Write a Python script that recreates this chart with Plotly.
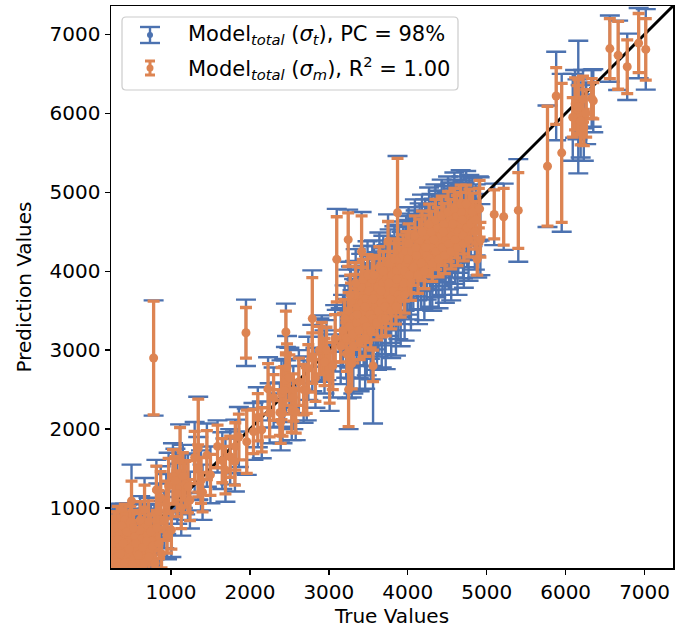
import plotly.graph_objects as go

# ---------------- data ----------------
true_values = [
    # low blob
    250, 265, 280, 295, 310, 325, 340, 355, 370, 385, 400, 415, 430, 445, 460, 475, 490, 500, 515, 530,
    545, 560, 575, 590, 605, 620, 635, 650, 665, 680, 700, 715, 730, 750, 770, 790, 260, 300, 350, 420,
    255, 270, 285, 320, 330, 360, 375, 395, 410, 440, 470, 485, 510, 525, 555, 585, 610, 640, 660, 690,
    720, 745, 770, 800, 820, 850, 880, 950,
    # 800 - 1400
    780, 815, 840, 870, 915, 940, 970, 1005, 1025, 1056, 1080, 1115, 1130, 1150, 1180, 1215, 1240, 1300,
    1345, 1345, 1380, 1400,
    # 1400 - 2450
    1455, 1500, 1590, 1650, 1690, 1750, 1810, 1815, 1860, 1950, 1960, 2045, 2100, 2150, 2230, 2250, 2300,
    2380, 2390, 2400, 2413, 2434,
    # 2450 - 3100
    2456, 2456, 2470, 2500, 2530, 2550, 2580, 2620, 2680, 2720, 2740, 2790, 2790, 2830, 2880, 2910, 2945,
    2970, 3010, 3050, 3080,
    # tall / off-diagonal points 3100 - 3900
    3100, 3245, 3415, 3750, 3870, 3250, 3290, 3560,
    # dense band 3100 - 4000
    3150, 3180, 3200, 3220, 3250, 3260, 3280, 3300, 3320, 3330, 3350, 3370, 3380, 3400, 3410, 3420, 3440,
    3450, 3470, 3480, 3500, 3510, 3520, 3540, 3550, 3560, 3580, 3590, 3600, 3620, 3630, 3650, 3660, 3680,
    3700, 3710, 3730, 3750, 3760, 3780, 3800, 3820, 3840, 3860, 3880, 3900, 3920, 3950, 3970, 3990,
    3230, 3270, 3310, 3340, 3390, 3430, 3460, 3490, 3530, 3570, 3610, 3640, 3670, 3690, 3720, 3770, 3790,
    3830, 3850, 3890, 3910, 3940, 3960, 3980, 3360, 3460, 3560, 3660, 3760, 3860, 3960,
    # dense band 4000 - 4920
    4000, 4020, 4050, 4070, 4100, 4120, 4150, 4170, 4200, 4220, 4240, 4260, 4280, 4300, 4320, 4340, 4360,
    4380, 4400, 4420, 4440, 4460, 4480, 4500, 4520, 4540, 4560, 4580, 4600, 4620, 4640, 4660, 4680, 4700,
    4720, 4750, 4780, 4800, 4850, 4880, 4900, 4920,
    4010, 4040, 4090, 4130, 4180, 4210, 4270, 4310, 4350, 4390, 4430, 4470, 4510, 4550, 4590, 4630, 4670,
    4710, 4740, 4770, 4820, 4860, 4110, 4230, 4330, 4450, 4570, 4690,
    # high range
    4910, 5095, 5215, 5400, 5770, 5950, 5880,
    6090, 6120, 6150, 6160, 6190, 6220, 6230, 6260, 6330, 6350,
    6560, 6665, 6780, 6925, 7015,
]

pred_values = [
    290, 450, 260, 620, 380, 780, 300, 520, 680, 250, 430, 850, 340, 560, 300, 700, 420, 1090, 520, 360,
    640, 450, 300, 560, 720, 420, 610, 350, 980, 520, 650, 830, 460, 580, 380, 700, 700, 750, 700, 750,
    550, 350, 750, 250, 600, 420, 780, 550, 300, 700, 480, 820, 280, 750, 550, 400, 850, 500, 300, 580,
    380, 700, 520, 300, 750, 550, 420, 650,
    2900, 1230, 960, 1130, 850, 1050, 1280, 720, 1400, 1350, 1180, 1600, 1000, 1400, 1300, 1270, 1100, 1640,
    1760, 1500, 1350, 1200,
    1670, 1420, 1780, 1600, 1480, 1650, 1590, 1780, 1900, 3220, 1840, 1970, 2150, 1990, 2510, 2200, 2400,
    2210, 2090, 2450, 2200, 2490,
    3230, 2620, 2780, 2650, 2240, 2400, 2220, 2600, 2500, 2490, 2770, 3400, 2900, 2650, 3000, 3020, 2850,
    3000, 2650, 2800, 3150,
    4150, 4400, 4250, 4380, 4740, 2500, 2830, 2800,
    3050, 3250, 3400, 3150, 3500, 3300, 3600, 3200, 3420, 3700, 3350, 3550, 3250, 3450, 3800, 3600, 3380,
    3500, 3650, 3300, 3550, 3750, 3450, 3600, 3900, 3400, 3700, 3550, 3650, 3800, 3500, 3700, 3600, 3850,
    3750, 3550, 3900, 3700, 3800, 3650, 3950, 3750, 3850, 4000, 3700, 3900, 4050, 3850, 4100, 3950,
    2950, 3700, 3050, 3850, 3100, 3900, 3150, 3950, 3250, 3950, 3350, 4050, 3400, 4000, 3400, 4100, 3500,
    4150, 3550, 4150, 3650, 4200, 3700, 4250, 3450, 3550, 3650, 3750, 3850, 3900, 4000,
    4150, 3950, 4250, 4050, 4300, 4150, 4400, 4100, 4250, 4450, 4200, 4350, 4150, 4500, 4300, 4400, 4250,
    4550, 4350, 4450, 4300, 4600, 4400, 4500, 4350, 4650, 4450, 4550, 4400, 4700, 4500, 4600, 4750, 4450,
    4650, 4550, 4800, 4600, 4500, 4150, 4800, 4400,
    4350, 3850, 4450, 3950, 4500, 4000, 4600, 4100, 4650, 4150, 4700, 4200, 4750, 4250, 4800, 4300, 4850,
    4350, 4850, 4400, 4750, 4650, 4200, 4300, 4400, 4500, 4600, 4650,
    4790, 4720, 4690, 4770, 5330, 5500, 6220,
    5950, 6120, 6050, 6080, 5900, 6180, 5820, 6000, 6190, 6160,
    6820, 6735, 6590, 6890, 6810,
]

sigma_total = [
    300, 360, 280, 400, 330, 250, 300, 360, 360, 290, 340, 200, 300, 350, 300, 360, 320, 460, 330, 300,
    350, 320, 290, 340, 330, 320, 340, 300, 400, 330, 340, 300, 320, 330, 330, 350, 340, 300, 340, 300,
    380, 320, 300, 300, 380, 340, 270, 360, 300, 340, 340, 230, 300, 300, 340, 320, 300, 330, 320, 340,
    330, 340, 330, 330, 340, 330, 320, 300,
    730, 380, 350, 400, 360, 380, 420, 340, 420, 400, 380, 460, 350, 400, 380, 420, 360, 450,
    650, 400, 380, 350,
    400, 360, 330, 360, 400, 350, 380, 340, 380, 420, 420, 360, 380, 360, 400, 380, 380,
    380, 360, 420, 380, 400,
    360, 420, 400, 380, 380, 400, 360, 400, 420, 380, 400, 610, 420, 380, 400, 420, 400,
    380, 420, 400, 420,
    640, 380, 500, 340, 720, 500, 430, 730,
    480, 450, 420, 500, 440, 520, 460, 560, 480, 430, 540, 470, 600, 500, 420, 460, 580,
    520, 450, 620, 500, 440, 560, 480, 420, 600, 460, 540, 500, 440, 580, 480, 540, 440,
    470, 600, 430, 520, 460, 560, 440, 500, 470, 430, 560, 480, 450, 520, 460, 500,
    560, 420, 600, 430, 620, 420, 640, 430, 620, 440, 600, 440, 620, 450, 640, 430, 600,
    420, 620, 440, 600, 430, 580, 450, 500, 500, 500, 500, 500, 500, 500,
    500, 560, 480, 540, 470, 520, 460, 580, 500, 460, 560, 500, 600, 480, 540, 500, 580,
    470, 540, 500, 600, 480, 540, 500, 580, 470, 530, 500, 560, 460, 520, 490, 450, 540,
    470, 500, 420, 460, 480, 230, 400, 450,
    460, 600, 460, 620, 470, 620, 460, 600, 450, 620, 460, 600, 450, 620, 450, 600, 430,
    560, 420, 520, 430, 450, 520, 520, 520, 520, 520, 500,
    400, 390, 420, 650, 770, 1000, 560,
    550, 430, 380, 840, 460, 370, 420, 390, 360, 400,
    420, 440, 420, 445, 510,
]

sigma_model = [
    150, 190, 140, 210, 170, 240, 150, 190, 220, 140, 180, 200, 160, 200, 150, 220, 170, 250, 190, 160,
    200, 170, 150, 190, 210, 170, 190, 160, 310, 180, 200, 260, 180, 190, 170, 220, 200, 200, 200, 200,
    200, 170, 200, 150, 200, 180, 200, 200, 160, 220, 190, 200, 160, 220, 200, 170, 230, 190, 160, 200,
    170, 210, 190, 160, 220, 190, 180, 220,
    720, 300, 260, 330, 260, 290, 350, 240, 340, 300, 290, 420, 260, 300, 290, 330, 260, 330,
    620, 300, 290, 250,
    310, 260, 270, 280, 300, 260, 300, 300, 290, 320, 400, 280, 300, 280, 320, 300, 290,
    290, 270, 330, 290, 300,
    265, 320, 300, 290, 280, 300, 270, 300, 320, 290, 300, 520, 320, 300, 300, 330, 300,
    290, 320, 300, 300,
    540, 340, 450, 250, 690, 470, 320, 200,
    200, 220, 240, 200, 230, 210, 250, 190, 220, 260, 210, 230, 200, 220, 250, 240, 210,
    220, 240, 200, 230, 250, 210, 230, 260, 200, 240, 220, 230, 250, 210, 230, 220, 250,
    240, 210, 260, 230, 240, 220, 250, 230, 240, 250, 220, 240, 250, 230, 250, 240,
    220, 250, 210, 260, 220, 250, 230, 260, 220, 250, 220, 260, 230, 250, 220, 250, 230,
    260, 220, 250, 230, 260, 230, 250, 230, 230, 230, 230, 230, 230, 230,
    240, 220, 250, 230, 250, 230, 260, 220, 240, 260, 230, 240, 220, 260, 240, 250, 230,
    260, 240, 250, 230, 260, 240, 250, 230, 260, 240, 250, 230, 260, 240, 250, 250, 230,
    240, 230, 240, 230, 220, 200, 250, 220,
    250, 220, 250, 230, 260, 220, 250, 230, 260, 220, 250, 230, 260, 220, 250, 230, 240,
    220, 240, 220, 240, 230, 240, 240, 240, 240, 240, 240,
    360, 310, 360, 480, 760, 880, 360,
    250, 330, 300, 350, 300, 290, 230, 300, 250, 230,
    380, 430, 340, 375, 390,
]

axis_limits = [240, 7360]
tick_values = [1000, 2000, 3000, 4000, 5000, 6000, 7000]
legend_labels = [
    "Model<sub><i>total</i></sub> (<i>σ<sub>t</sub></i>), PC = 98%",
    "Model<sub><i>total</i></sub> (<i>σ<sub>m</sub></i>), R<sup>2</sup> = 1.00",
]

# ---------------- style ----------------
BLUE = "#4C72B0"
ORANGE = "#DD8452"
FONT = "DejaVu Sans"

W, H = 686, 631
L, R, T, B = 111, 673, 6, 568  # plot area in pixels


def fx(p):
    return (p - L) / (R - L)


def fy(p):
    return (B - p) / (B - T)


fig = go.Figure()

fig.add_trace(go.Scatter(
    x=true_values, y=pred_values, mode="markers",
    marker=dict(color=BLUE, size=7),
    error_y=dict(type="data", array=sigma_total, visible=True, color=BLUE, thickness=2.4, width=10),
    showlegend=False, cliponaxis=True,
))

fig.add_trace(go.Scatter(
    x=axis_limits, y=axis_limits, mode="lines",
    line=dict(color="black", width=3), showlegend=False,
))

fig.add_trace(go.Scatter(
    x=true_values, y=pred_values, mode="markers",
    marker=dict(color=ORANGE, size=9),
    error_y=dict(type="data", array=sigma_model, visible=True, color=ORANGE, thickness=3.3, width=6),
    showlegend=False, cliponaxis=True,
))

axis_common = dict(
    range=axis_limits, tickvals=tick_values, ticks="outside", ticklen=5, tickwidth=1.3,
    tickcolor="black", showline=True, linecolor="black", linewidth=1.5, mirror=True,
    showgrid=False, zeroline=False, tickfont=dict(family=FONT, size=20, color="black"),
)

fig.update_layout(
    width=W, height=H,
    margin=dict(l=L, r=W - R, t=T, b=H - B, autoexpand=False),
    paper_bgcolor="white", plot_bgcolor="white",
    font=dict(family=FONT, size=20, color="black"),
    xaxis=dict(**axis_common, title=dict(text="True Values", font=dict(family=FONT, size=20), standoff=6)),
    yaxis=dict(**axis_common, title=dict(text="Prediction Values", font=dict(family=FONT, size=20), standoff=12)),
    showlegend=False,
)

# ---------------- legend (manual, matplotlib-like) ----------------
bx0, bx1, by0, by1, rr = 122, 458, 17, 90, 4
path = (
    f"M {fx(bx0 + rr)},{fy(by0)} L {fx(bx1 - rr)},{fy(by0)} Q {fx(bx1)},{fy(by0)} {fx(bx1)},{fy(by0 + rr)} "
    f"L {fx(bx1)},{fy(by1 - rr)} Q {fx(bx1)},{fy(by1)} {fx(bx1 - rr)},{fy(by1)} "
    f"L {fx(bx0 + rr)},{fy(by1)} Q {fx(bx0)},{fy(by1)} {fx(bx0)},{fy(by1 - rr)} "
    f"L {fx(bx0)},{fy(by0 + rr)} Q {fx(bx0)},{fy(by0)} {fx(bx0 + rr)},{fy(by0)} Z"
)
shapes = [dict(type="path", xref="paper", yref="paper", path=path,
               fillcolor="rgba(255,255,255,0.85)", line=dict(color="#cccccc", width=1.2))]

icons = [(150, 35, 8, 10, BLUE, 2.4, 3), (150, 68, 7, 5, ORANGE, 3, 3.5)]
for cx, cy, hh, cw, col, lw, rad in icons:
    shapes.append(dict(type="line", xref="paper", yref="paper", x0=fx(cx), x1=fx(cx),
                       y0=fy(cy - hh), y1=fy(cy + hh), line=dict(color=col, width=lw)))
    for yy in (cy - hh, cy + hh):
        shapes.append(dict(type="line", xref="paper", yref="paper", x0=fx(cx - cw), x1=fx(cx + cw),
                           y0=fy(yy), y1=fy(yy), line=dict(color=col, width=lw)))
    shapes.append(dict(type="circle", xref="paper", yref="paper", x0=fx(cx - rad), x1=fx(cx + rad),
                       y0=fy(cy + rad), y1=fy(cy - rad), fillcolor=col, line=dict(color=col, width=0)))

annotations = []
for lab, cy in zip(legend_labels, (35, 68)):
    annotations.append(dict(xref="paper", yref="paper", x=fx(186), y=fy(cy), text=lab, showarrow=False,
                            xanchor="left", yanchor="middle", font=dict(family=FONT, size=21, color="black")))

fig.update_layout(shapes=shapes, annotations=annotations)

fig.write_html(
    "out.html",
    config={"displayModeBar": False, "staticPlot": True},
    post_script="document.body.style.margin='0';document.body.style.padding='0';",
)
